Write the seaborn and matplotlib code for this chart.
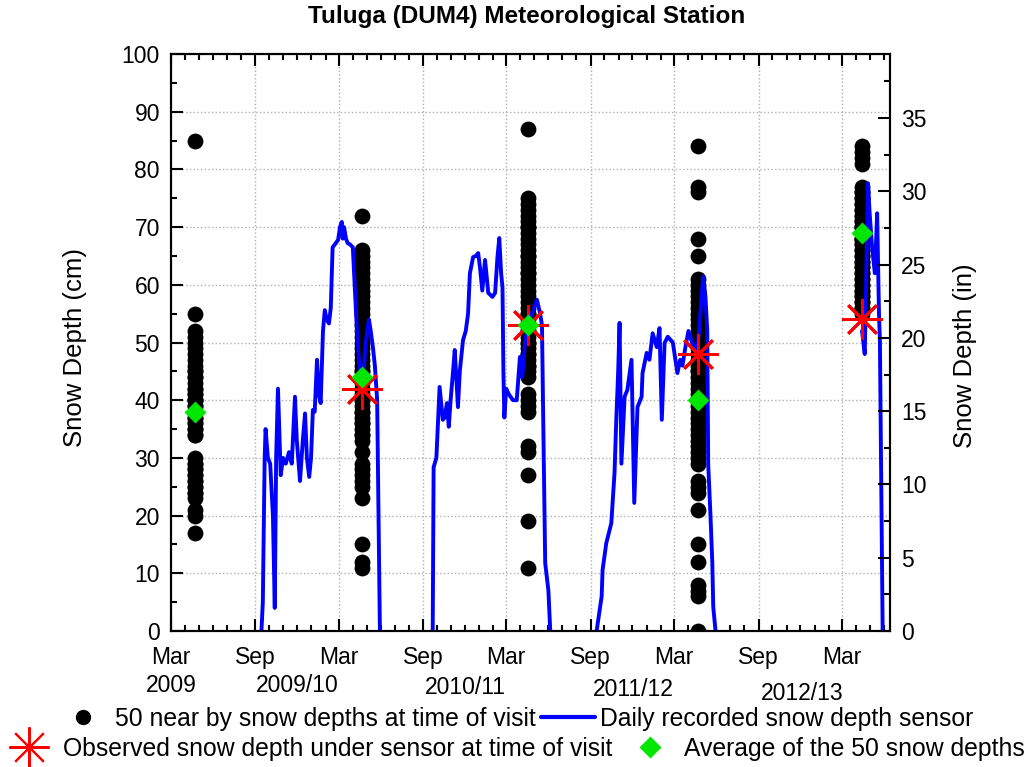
import numpy as np
import pandas as pd
import matplotlib
matplotlib.use("Agg")
import matplotlib.pyplot as plt
import matplotlib.dates as mdates
import matplotlib.transforms as mtrans
from matplotlib.ticker import MultipleLocator
from matplotlib.lines import Line2D
import seaborn as sns

# ---------------- data ----------------
visit_dates = ["2009-04-22", "2010-04-20", "2011-04-17", "2012-04-21", "2013-04-15"]

depths_2009 = [85, 55, 52, 51, 50, 49, 48, 47, 46, 45, 45, 44, 44, 43, 42, 42, 41, 41, 40, 40,
               39, 39, 38, 38, 37, 37, 36, 36, 35, 35, 34, 34, 30, 29, 29, 28, 28, 27, 27, 26,
               26, 25, 25, 24, 24, 23, 21, 20, 17, 40]
depths_2010 = [72, 66, 65, 64, 63, 62, 61, 60, 59, 58, 57, 56, 55, 53, 52, 51, 50, 49, 48, 47,
               46, 45, 45, 44, 43, 42, 42, 41, 40, 40, 39, 38, 38, 37, 36, 36, 35, 34, 34, 33,
               31, 29, 28, 27, 26, 25, 23, 15, 12, 11]
depths_2011 = [87, 75, 74, 73, 72, 71, 70, 70, 69, 68, 67, 66, 65, 65, 64, 63, 62, 61, 60, 59,
               58, 57, 56, 55, 55, 54, 53, 52, 52, 51, 50, 50, 49, 48, 48, 47, 46, 46, 45, 44,
               41, 40, 39, 38, 32, 31, 27, 19, 11, 62]
depths_2012 = [84, 77, 76, 68, 65, 61, 60, 59, 58, 57, 56, 55, 54, 53, 52, 51, 50, 49, 48, 47,
               46, 45, 45, 44, 43, 42, 41, 40, 40, 39, 38, 37, 36, 35, 34, 33, 32, 31, 30, 29,
               26, 25, 24, 21, 15, 12, 8, 7, 6, 0]
depths_2013 = [84, 83, 82, 81, 77, 76, 76, 75, 75, 74, 74, 73, 73, 72, 72, 71, 71, 70, 70, 69,
               69, 68, 68, 67, 67, 66, 66, 65, 65, 64, 64, 63, 63, 62, 62, 61, 61, 60, 60, 59,
               59, 58, 58, 57, 57, 56, 56, 55, 70, 68]

avg_depths = [38, 44, 53, 40, 69]

obs_dates = ["2010-04-20", "2011-04-17", "2012-04-21", "2013-04-15"]
obs_depths = [42, 53, 48, 54]

sensor_0910_dates = ["2009-09-14", "2009-09-17", "2009-09-21", "2009-09-23", "2009-09-28",
                     "2009-10-03", "2009-10-09", "2009-10-13", "2009-10-16", "2009-10-20",
                     "2009-10-26", "2009-10-31", "2009-11-06", "2009-11-13", "2009-11-19",
                     "2009-11-26", "2009-11-30", "2009-12-07", "2009-12-13", "2009-12-18",
                     "2009-12-22", "2009-12-27", "2009-12-31", "2010-01-04", "2010-01-08",
                     "2010-01-13", "2010-01-17", "2010-01-21", "2010-01-26", "2010-01-30",
                     "2010-02-03", "2010-02-08", "2010-02-12", "2010-02-16", "2010-02-21",
                     "2010-02-28", "2010-03-04", "2010-03-08", "2010-03-10", "2010-03-13",
                     "2010-03-17", "2010-03-21", "2010-03-26", "2010-04-01", "2010-04-05",
                     "2010-04-10", "2010-04-16", "2010-04-23", "2010-04-29", "2010-05-06",
                     "2010-05-10", "2010-05-15", "2010-05-19", "2010-05-24", "2010-05-27",
                     "2010-05-30"]
sensor_0910 = [0, 5, 30, 35, 30, 29, 20, 4, 30, 42, 27, 30, 29, 31, 29, 40.6, 33, 26, 33, 37.7,
               30, 26.7, 30, 38.3, 38, 47, 41, 39.5, 52, 55.6, 54, 53.3, 56, 66.5, 67, 67.8, 70,
               70.9, 68, 70, 68, 67.2, 67, 66.5, 60, 52, 45, 43, 50, 54, 52, 49, 46, 40, 20, 0]

sensor_1011_dates = ["2010-09-22", "2010-09-24", "2010-09-30", "2010-10-07", "2010-10-14",
                     "2010-10-18", "2010-10-23", "2010-10-27", "2010-10-31", "2010-11-05",
                     "2010-11-09", "2010-11-16", "2010-11-20", "2010-11-27", "2010-12-03",
                     "2010-12-08", "2010-12-12", "2010-12-19", "2010-12-25", "2010-12-30",
                     "2011-01-03", "2011-01-08", "2011-01-14", "2011-01-21", "2011-01-30",
                     "2011-02-05", "2011-02-10", "2011-02-14", "2011-02-18", "2011-02-21",
                     "2011-02-23", "2011-02-25", "2011-03-01", "2011-03-07", "2011-03-16",
                     "2011-03-24", "2011-03-31", "2011-04-05", "2011-04-11", "2011-04-18",
                     "2011-04-26", "2011-05-07", "2011-05-14", "2011-05-18", "2011-05-21",
                     "2011-05-25", "2011-06-01", "2011-06-05"]
sensor_1011 = [0, 28.4, 30, 42.3, 36.6, 37, 39.5, 35.4, 40, 44.7, 48.7, 38.8, 45, 50.4, 52,
               55, 62, 64.8, 65, 65.5, 63, 59, 64.3, 58.6, 57.9, 58.6, 64.8, 68.1, 62, 59.6,
               45, 37, 42, 41, 40, 40, 47.5, 44, 50, 53, 55, 57.4, 55, 53, 35, 11.8, 7, 0]

sensor_1112_dates = ["2011-09-14", "2011-09-25", "2011-09-27", "2011-10-05", "2011-10-16",
                     "2011-10-23", "2011-10-27", "2011-10-31", "2011-11-03", "2011-11-07",
                     "2011-11-14", "2011-11-20", "2011-11-29", "2011-12-05", "2011-12-12",
                     "2011-12-21", "2011-12-23", "2012-01-01", "2012-01-07", "2012-01-14",
                     "2012-01-23", "2012-01-29", "2012-02-03", "2012-02-09", "2012-02-16",
                     "2012-02-27", "2012-03-08", "2012-03-14", "2012-03-19", "2012-03-25",
                     "2012-04-01", "2012-04-09", "2012-04-20", "2012-04-27", "2012-05-03",
                     "2012-05-08", "2012-05-12", "2012-05-14", "2012-05-19", "2012-05-23",
                     "2012-05-25", "2012-05-30"]
sensor_1112 = [0, 6, 10.6, 15.2, 18.7, 27.4, 37, 45, 53.4, 29, 40.6, 41.8, 47, 22.2, 38.8,
               40.6, 44.7, 48.2, 47, 51.6, 49.2, 52.5, 36.6, 49.9, 51, 50, 44.7, 47, 46, 49,
               52, 50, 48, 55, 61.4, 58, 52, 29, 20, 11.8, 4.2, 0]

sensor_1213_dates = ["2013-04-14", "2013-04-20", "2013-04-23", "2013-04-27", "2013-05-01",
                     "2013-05-06", "2013-05-12", "2013-05-17", "2013-05-21", "2013-05-23",
                     "2013-05-26", "2013-05-29"]
sensor_1213 = [52, 48, 60, 77.6, 72, 66.5, 62, 72.4, 55, 50.4, 25, 0]

major_tick_dates = ["2009-03-01", "2009-09-01", "2010-03-01", "2010-09-01", "2011-03-01",
                    "2011-09-01", "2012-03-01", "2012-09-01", "2013-03-01"]
major_tick_labels = ["Mar\n2009", "Sep", "Mar", "Sep", "Mar", "Sep", "Mar", "Sep", "Mar"]
season_labels = ["2009/10", "2010/11", "2011/12", "2012/13"]
season_label_dates = ["2009-12-01", "2010-12-02", "2011-12-03", "2012-12-04"]

# ---------------- build tables ----------------
dot_rows = []
for d, vals in zip(visit_dates, [depths_2009, depths_2010, depths_2011, depths_2012, depths_2013]):
    for v in vals:
        dot_rows.append((pd.Timestamp(d), v))
dots = pd.DataFrame(dot_rows, columns=["date", "depth"])

segs = []
for name, ds, vs in [("2009/10", sensor_0910_dates, sensor_0910),
                     ("2010/11", sensor_1011_dates, sensor_1011),
                     ("2011/12", sensor_1112_dates, sensor_1112),
                     ("2012/13", sensor_1213_dates, sensor_1213)]:
    segs.append(pd.DataFrame({"date": pd.to_datetime(ds), "depth": vs, "season": name}))
sensor = pd.concat(segs, ignore_index=True)

# ---------------- style ----------------
sns.set_theme(style="ticks")
plt.rcParams["font.family"] = ["Liberation Sans", "DejaVu Sans"]
plt.rcParams.update({
    "axes.edgecolor": "black", "axes.linewidth": 1.5,
    "xtick.color": "black", "ytick.color": "black",
    "text.color": "black", "axes.labelcolor": "black",
})

TICK_FS = 16.5
fig = plt.figure(figsize=(10.29, 7.67), dpi=100)
ax = fig.add_axes([171 / 1029, 1 - 631 / 767, (890 - 171) / 1029, (631 - 54) / 767])

sns.scatterplot(data=dots, x="date", y="depth", ax=ax, color="black", s=130,
                linewidth=0, zorder=3, legend=False)
sns.lineplot(data=sensor, x="date", y="depth", units="season", estimator=None,
             color="#0000ff", linewidth=2.8, ax=ax, zorder=4, legend=False, sort=False)
ax.plot(pd.to_datetime(obs_dates), obs_depths, linestyle="none", marker=(8, 2, 0),
        markersize=29, color="red", markeredgewidth=2, zorder=5)
ax.plot(pd.to_datetime(visit_dates), avg_depths, linestyle="none", marker="D",
        markersize=11.5, color="#00e600", markeredgecolor="none", zorder=6)

ax.set_xlim(mdates.date2num(pd.Timestamp("2009-03-01")), mdates.date2num(pd.Timestamp("2013-06-14")))
ax.set_ylim(0, 100)
ax.set_xlabel("")
ax.set_ylabel("Snow Depth (cm)", fontsize=18.5)
ax.yaxis.set_label_coords(-0.117, 0.492)

ax.set_xticks(mdates.date2num(pd.to_datetime(major_tick_dates)))
ax.set_xticklabels(major_tick_labels, linespacing=1.25)
ax.xaxis.set_minor_locator(mdates.MonthLocator())
ax.set_yticks(range(0, 101, 10))
ax.yaxis.set_minor_locator(MultipleLocator(5))
ax.tick_params(which="both", direction="in", top=True, right=False, width=1.5, labelsize=TICK_FS)
ax.tick_params(which="major", length=8.5)
ax.tick_params(which="minor", length=4.3)
ax.tick_params(axis="x", which="major", pad=11)
ax.tick_params(axis="y", which="major", pad=8)
ax.grid(True, which="major", linestyle=":", color="#b0b0b0", linewidth=1)

blend = mtrans.blended_transform_factory(ax.transData, fig.transFigure)
offsets = [0, 3, 5, 8]
for lab, d, off in zip(season_labels, season_label_dates, offsets):
    ax.text(mdates.date2num(pd.Timestamp(d)), 1 - (685 + off) / 767, lab, transform=blend,
            ha="center", va="center", fontsize=TICK_FS)

ax2 = ax.twinx()
ax2.set_ylim(0, 100 / 2.54)
ax2.set_yticks(range(0, 36, 5))
ax2.yaxis.set_minor_locator(MultipleLocator(2.5))
ax2.tick_params(which="both", direction="in", left=False, right=True, width=1.5, labelsize=TICK_FS)
ax2.tick_params(which="major", length=8.5, pad=8)
ax2.tick_params(which="minor", length=4.3)
ax2.set_ylabel("Snow Depth (in)", fontsize=18.5)
ax2.yaxis.set_label_coords(1.0876, 0.478)
ax2.grid(False)

fig.text(527 / 1029, 1 - 17 / 767, "Tuluga (DUM4) Meteorological Station", ha="center", va="center",
         fontsize=17.5, fontweight="bold")

LEG_FS = 17.8
h1 = Line2D([], [], linestyle="none", marker="o", color="black", markersize=10)
h2 = Line2D([], [], color="#0000ff", linewidth=3)
h3 = Line2D([], [], linestyle="none", marker=(8, 2, 0), color="red", markersize=29, markeredgewidth=1.5)
h4 = Line2D([], [], linestyle="none", marker="D", color="#00e600", markeredgecolor="none", markersize=11.5)
fig.legend([h1, h2], ["50 near by snow depths at time of visit", "Daily recorded snow depth sensor"],
           loc="center", bbox_to_anchor=(0.5, 1 - 719 / 767), ncol=2, frameon=False,
           fontsize=LEG_FS, handlelength=2.2, handletextpad=0.2, columnspacing=0.2,
           borderpad=0.1)
fig.legend([h3, h4], ["Observed snow depth under sensor at time of visit", "Average of the 50 snow depths"],
           loc="center", bbox_to_anchor=(0.5, 1 - 749 / 767), ncol=2, frameon=False,
           fontsize=LEG_FS, handlelength=2.0, handletextpad=0.4, columnspacing=0.5,
           borderpad=0.1)

fig.savefig("out.png", dpi=100)
